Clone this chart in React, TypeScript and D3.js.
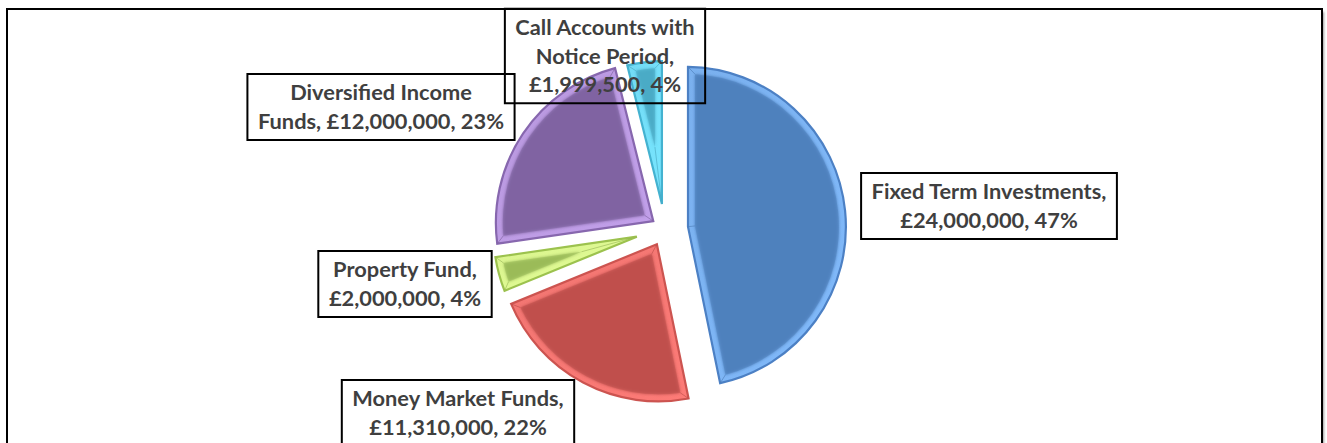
import React, { useEffect, useRef } from 'react';
import * as d3 from 'd3';

// ---- data ----
const categories = [
  'Fixed Term Investments',
  'Money Market Funds',
  'Property Fund',
  'Diversified Income Funds',
  'Call Accounts with Notice Period',
];
const values = [24000000, 11310000, 2000000, 12000000, 1999500];

// ---- style / layout ----
const baseColors = ['#4F81BD', '#C0504D', '#9BBB59', '#8064A2', '#4BACC6'];
const lightColors = ['#7AB0EE', '#F07571', '#D8F28E', '#B898DE', '#72DAF4'];
const edgeColors = ['#4C80C4', '#CC5450', '#9CC24E', '#8767AE', '#44B2D0'];
const explode = [21, 14, 12, 11, 8];
const labelCenters: [number, number][] = [
  [989, 206],
  [458, 413],
  [405, 284],
  [381, 107],
  [605, 56],
];

const W = 1327;
const H = 443;
const CX = 665;
const CY = 229;
const R = 160;
const BEVEL = 7;
const EDGE_IN = 2.1;
const WRAP = 23;
const LINE_H = 28.5;

// wedge whose straight edges are moved inward by wEdge and whose arc has radius rArc
function wedge(a0: number, a1: number, rArc: number, wEdge: number) {
  const h = (a1 - a0) / 2;
  const mid = (a0 + a1) / 2;
  const s = wEdge / Math.sin(h);
  const P = [s * Math.sin(mid), -s * Math.cos(mid)];
  const t = -s * Math.cos(h) + Math.sqrt(rArc * rArc - wEdge * wEdge);
  const E0 = [P[0] + t * Math.sin(a0), P[1] - t * Math.cos(a0)];
  const E1 = [P[0] + t * Math.sin(a1), P[1] - t * Math.cos(a1)];
  const large = a1 - a0 > Math.PI ? 1 : 0;
  return {
    P,
    E0,
    E1,
    d: `M${P[0]},${P[1]}L${E0[0]},${E0[1]}A${rArc},${rArc} 0 ${large} 1 ${E1[0]},${E1[1]}Z`,
  };
}

function wrapWords(text: string, max: number) {
  const words = text.split(' ');
  const lines: string[] = [];
  let cur = '';
  words.forEach((w) => {
    const cand = cur ? cur + ' ' + w : w;
    if (cand.length > max && cur) {
      lines.push(cur);
      cur = w;
    } else cur = cand;
  });
  if (cur) lines.push(cur);
  return lines;
}

export default function App() {
  const ref = useRef<SVGSVGElement>(null);

  useEffect(() => {
    const svg = d3.select(ref.current);
    svg.selectAll('*').remove();

    const defs = svg.append('defs');
    defs.append('filter').attr('id', 'shadow').attr('x', '-5%').attr('y', '-5%').attr('width', '110%').attr('height', '110%')
      .append('feGaussianBlur').attr('stdDeviation', 1);
    defs.append('filter').attr('id', 'soft').attr('x', '-20%').attr('y', '-20%').attr('width', '140%').attr('height', '140%')
      .append('feGaussianBlur').attr('stdDeviation', 1.6);

    // frame
    svg.append('rect').attr('x', 9).attr('y', 12).attr('width', 1315).attr('height', 470)
      .attr('fill', '#9a9a9a').attr('filter', 'url(#shadow)');
    svg.append('rect').attr('x', 7).attr('y', 9).attr('width', 1315).attr('height', 470)
      .attr('fill', '#ffffff').attr('stroke', '#000').attr('stroke-width', 2);

    const total = d3.sum(values);
    const arcs = d3.pie<number>().sort(null).value((d) => d)(values);

    const g = svg.append('g').attr('transform', `translate(${CX},${CY})`);
    arcs.forEach((a, i) => {
      const mid = (a.startAngle + a.endAngle) / 2;
      const ox = explode[i] * Math.sin(mid);
      const oy = -explode[i] * Math.cos(mid);
      const sg = g.append('g').attr('transform', `translate(${ox},${oy})`);
      const gid = `bev${i}`;
      const lg = defs.append('linearGradient').attr('id', gid)
        .attr('x1', '0%').attr('y1', '0%').attr('x2', '100%').attr('y2', '100%');
      lg.append('stop').attr('offset', '0%').attr('stop-color', lightColors[i]);
      lg.append('stop').attr('offset', '100%').attr('stop-color', d3.color(lightColors[i])!.brighter(0.15).toString());
      const outer = wedge(a.startAngle, a.endAngle, R, EDGE_IN);
      sg.append('path').attr('d', outer.d)
        .attr('fill', `url(#${gid})`)
        .attr('stroke', edgeColors[i]).attr('stroke-width', 2.2).attr('stroke-linejoin', 'miter');
      const inner = wedge(a.startAngle, a.endAngle, R - BEVEL, EDGE_IN + BEVEL);
      // mitre lines
      [[outer.P, inner.P], [outer.E0, inner.E0], [outer.E1, inner.E1]].forEach(([p, q]) => {
        sg.append('line').attr('x1', p[0]).attr('y1', p[1]).attr('x2', q[0]).attr('y2', q[1])
          .attr('stroke', d3.color(baseColors[i])!.darker(0.1).toString()).attr('stroke-width', 1).attr('opacity', 0.6);
      });
      sg.append('path').attr('d', inner.d).attr('fill', baseColors[i]).attr('filter', 'url(#soft)');
      sg.append('path').attr('d', inner.d).attr('fill', baseColors[i]).attr('opacity', 0.55);
    });

    // labels
    arcs.forEach((a, i) => {
      const pct = Math.round((values[i] / total) * 100);
      const text = `${categories[i]}, £${d3.format(',')(values[i])}, ${pct}%`;
      const lines = wrapWords(text, WRAP);
      const [lx, ly] = labelCenters[i];
      const lg = svg.append('g');
      const rect = lg.append('rect').attr('fill', 'none').attr('stroke', '#000').attr('stroke-width', 2);
      const t = lg.append('text')
        .attr('text-anchor', 'middle')
        .attr('font-family', 'Lato, "Open Sans", sans-serif')
        .attr('font-weight', 700)
        .attr('font-size', 21.8)
        .attr('fill', '#3f3f3f');
      lines.forEach((ln, k) => {
        t.append('tspan').attr('x', lx)
          .attr('y', ly + (k - (lines.length - 1) / 2) * LINE_H + 7.5)
          .text(ln);
      });
      const bb = (t.node() as SVGTextElement).getBBox();
      const bw = bb.width + 21;
      const bh = lines.length * LINE_H + 9;
      rect.attr('x', lx - bw / 2).attr('y', ly - bh / 2).attr('width', bw).attr('height', bh);
    });
  }, []);

  return (
    <svg
      ref={ref}
      width={W}
      height={H}
      style={{ position: 'absolute', left: 0, top: 0, background: '#fff' }}
    />
  );
}
